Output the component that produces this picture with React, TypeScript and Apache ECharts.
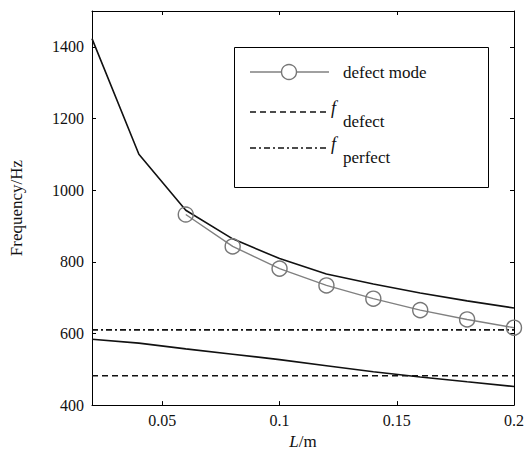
import React, { useEffect, useRef } from "react";
import * as echarts from "echarts";

const lengths = [0.02, 0.04, 0.06, 0.08, 0.1, 0.12, 0.14, 0.16, 0.18, 0.2];
const upperBand = [1423, 1100, 944, 864, 809, 766, 738, 713, 691, 671];
const lowerBand = [584, 573, 557, 542, 527, 510, 493, 478.5, 465, 452];
const defectLengths = [0.06, 0.08, 0.1, 0.12, 0.14, 0.16, 0.18, 0.2];
const defectMode = [932, 843, 781, 734, 697, 665, 639, 616];
const fDefect = 482;
const fPerfect = 610;
const xTicks = [0.05, 0.1, 0.15, 0.2];
const yTicks = [400, 600, 800, 1000, 1200, 1400];
const xRange = [0.02, 0.2];
const yRange = [400, 1500];

const FONT = "Liberation Serif";
const tickText = { fontFamily: FONT, fontSize: 16, color: "#111" };
const nameText = { fontFamily: FONT, fontSize: 17, color: "#111" };

export default function App() {
  const ref = useRef<HTMLDivElement>(null);
  useEffect(() => {
    if (!ref.current) return;
    const chart = echarts.init(ref.current, null, { renderer: "svg" });
    const pair = (xs: number[], ys: number[]) => xs.map((x, i) => [x, ys[i]]);
    const hLine = (v: number) => [
      [xRange[0], v],
      [xRange[1], v],
    ];
    const tickStyle = { show: true, inside: true, length: 4, lineStyle: { color: "#000" } };
    const axisLine = { show: true, onZero: false, lineStyle: { color: "#000", width: 1 } };
    chart.setOption({
      animation: false,
      backgroundColor: "#fff",
      textStyle: { fontFamily: FONT, fontSize: 16, color: "#111" },
      grid: { left: 91, top: 11, width: 423, height: 402, containLabel: false },
      xAxis: [
        {
          type: "value",
          min: xRange[0],
          max: xRange[1],
          position: "bottom",
          axisLine,
          splitLine: { show: false },
          name: "{i|L}{n|/m}",
          nameLocation: "middle",
          nameGap: 23,
          nameTextStyle: {
            ...nameText,
            rich: {
              i: { ...nameText, fontStyle: "italic" },
              n: { ...nameText },
            },
          },
          axisTick: { ...tickStyle, customValues: xTicks },
          axisLabel: {
            show: true,
            customValues: xTicks,
            formatter: (v: number) => "{t|" + String(v) + "}",
            margin: 7,
            ...tickText,
            rich: { t: { ...tickText } },
          },
        },
        {
          type: "value",
          min: xRange[0],
          max: xRange[1],
          position: "top",
          axisLine,
          splitLine: { show: false },
          axisTick: { ...tickStyle, customValues: xTicks },
          axisLabel: { show: false },
        },
      ],
      yAxis: [
        {
          type: "value",
          min: yRange[0],
          max: yRange[1],
          position: "left",
          axisLine,
          splitLine: { show: false },
          name: "{n|Frequency/Hz}",
          nameLocation: "middle",
          nameGap: 67,
          nameTextStyle: { ...nameText, rich: { n: { ...nameText } } },
          axisTick: { ...tickStyle, customValues: yTicks },
          axisLabel: {
            show: true,
            customValues: yTicks,
            formatter: (v: number) => "{t|" + String(v) + "}",
            margin: 8,
            ...tickText,
            rich: { t: { ...tickText } },
          },
        },
        {
          type: "value",
          min: yRange[0],
          max: yRange[1],
          position: "right",
          axisLine,
          splitLine: { show: false },
          axisTick: { ...tickStyle, customValues: yTicks },
          axisLabel: { show: false },
        },
      ],
      series: [
        {
          type: "line",
          name: "upper",
          data: pair(lengths, upperBand),
          symbol: "none",
          lineStyle: { color: "#111", width: 1.6 },
          z: 3,
        },
        {
          type: "line",
          name: "lower",
          data: pair(lengths, lowerBand),
          symbol: "none",
          lineStyle: { color: "#111", width: 1.6 },
          z: 3,
        },
        {
          type: "line",
          name: "f_defect",
          data: hLine(fDefect),
          symbol: "none",
          lineStyle: { color: "#111", width: 1.6, type: [6, 4] },
          z: 2,
        },
        {
          type: "line",
          name: "f_perfect",
          data: hLine(fPerfect),
          symbol: "none",
          lineStyle: { color: "#111", width: 1.6, type: [6, 3, 2, 3] },
          z: 2,
        },
        {
          type: "line",
          name: "defect mode",
          data: pair(defectLengths, defectMode),
          symbol: "circle",
          symbolSize: 15,
          showAllSymbol: true,
          lineStyle: { color: "#808080", width: 1.4 },
          itemStyle: { color: "transparent", borderColor: "#777", borderWidth: 1.4 },
          z: 4,
        },
      ],
      graphic: [
        {
          type: "rect",
          shape: { x: 234.5, y: 47.5, width: 254, height: 140 },
          style: { fill: "#fff", stroke: "#000", lineWidth: 1 },
          z: 10,
        },
        {
          type: "line",
          shape: { x1: 250, y1: 72, x2: 329, y2: 72 },
          style: { stroke: "#808080", lineWidth: 1.4 },
          z: 11,
        },
        {
          type: "circle",
          shape: { cx: 289, cy: 72, r: 7.5 },
          style: { stroke: "#777", fill: "#fff", lineWidth: 1.4 },
          z: 12,
        },
        {
          type: "text",
          x: 343,
          y: 72,
          style: { text: "defect mode", fontFamily: FONT, fontSize: 17, fill: "#111", verticalAlign: "middle" },
          z: 11,
        },
        {
          type: "line",
          shape: { x1: 250, y1: 112, x2: 329, y2: 112 },
          style: { stroke: "#111", lineWidth: 1.6, lineDash: [6, 4] },
          z: 11,
        },
        {
          type: "text",
          x: 331,
          y: 108,
          style: { text: "f", fontFamily: FONT, fontSize: 18, fontStyle: "italic", fill: "#111", verticalAlign: "middle" },
          z: 11,
        },
        {
          type: "text",
          x: 343,
          y: 121,
          style: { text: "defect", fontFamily: FONT, fontSize: 17, fill: "#111", verticalAlign: "middle" },
          z: 11,
        },
        {
          type: "line",
          shape: { x1: 250, y1: 148, x2: 329, y2: 148 },
          style: { stroke: "#111", lineWidth: 1.6, lineDash: [6, 3, 2, 3] },
          z: 11,
        },
        {
          type: "text",
          x: 331,
          y: 144,
          style: { text: "f", fontFamily: FONT, fontSize: 18, fontStyle: "italic", fill: "#111", verticalAlign: "middle" },
          z: 11,
        },
        {
          type: "text",
          x: 343,
          y: 157,
          style: { text: "perfect", fontFamily: FONT, fontSize: 17, fill: "#111", verticalAlign: "middle" },
          z: 11,
        },
      ],
    });
    return () => chart.dispose();
  }, []);
  return (
    <div
      ref={ref}
      style={{ position: "fixed", left: 0, top: 0, width: 527, height: 455, background: "#fff" }}
    />
  );
}
